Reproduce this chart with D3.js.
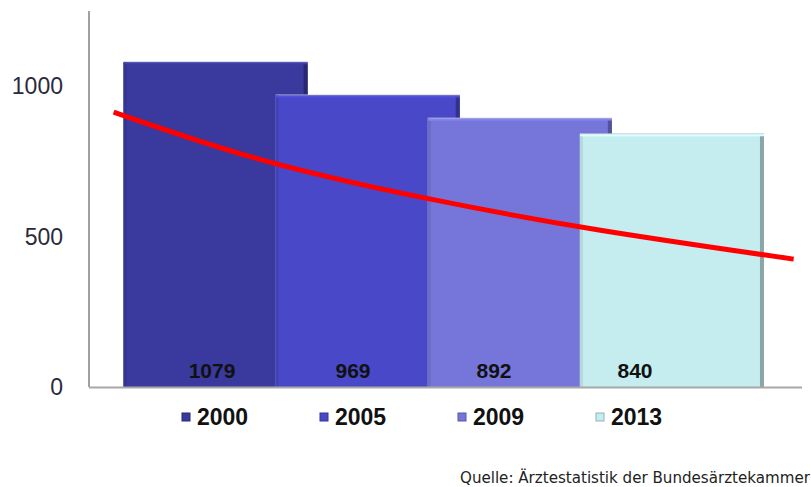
<!DOCTYPE html>
<html lang="de">
<head>
  <meta charset="UTF-8">
  <title>Ärztestatistik</title>
  <style>
    body { margin: 0; background: #fff; }
    svg { display: block; font-family: "Liberation Sans", Arial, sans-serif; }
  </style>
</head>
<body>
  <svg id="chart" width="811" height="487"></svg>

  <script src="https://d3js.org/d3.v7.min.js"></script>
  <script>
    // Werte aus der Grafik
    const jahre = ['2000', '2005', '2009', '2013'];
    const werte = [1079, 969, 892, 840];
    const farben = ['#39399e', '#4848c8', '#7676da', '#c5edf0'];
    const yTicks = [0, 500, 1000];

    // Trendlinie (Position in Balken-Index)
    const trendPos = [-0.67, 0.29, 1.39, 2.52, 3.80];
    const trendWert = [914, 757, 627, 522, 425];

    const quelle = 'Quelle: Ärztestatistik der Bundesärztekammer';

    const svg = d3.select('#chart');

    const y = d3.scaleLinear().domain([0, 1250]).range([387, 11]);

    // Balken überlappen sich: Schrittweite kleiner als Balkenbreite
    const x = d3.scaleBand().domain(jahre).range([139.5, 748]).paddingInner(0).paddingOuter(0);
    const balkenBreite = x.bandwidth() * 1.21;
    const mitte = d => x(d) + x.bandwidth() / 2;

    const xIndex = d3.scaleLinear().domain([0, 3]).range([mitte(jahre[0]), mitte(jahre[3])]);

    // Positionen der Zahlen und Legende
    const xLabel = d3.scalePoint().domain(jahre).range([212, 635]);
    const xLegende = d3.scalePoint().domain(jahre).range([182, 596]);

    // Achsen
    svg.append('line')
      .attr('x1', 89).attr('x2', 89)
      .attr('y1', y(1250)).attr('y2', y(0))
      .attr('stroke', '#a0a0a0').attr('stroke-width', 2);

    svg.selectAll('.tick')
      .data(yTicks)
      .enter().append('text')
      .attr('class', 'tick')
      .attr('x', 63)
      .attr('y', d => y(d))
      .attr('dy', '0.36em')
      .attr('text-anchor', 'end')
      .style('font-size', '23px')
      .style('fill', '#2a2a3a')
      .text(d => d);

    // Balken mit Kanten-Effekt
    const balken = svg.selectAll('.balken')
      .data(jahre)
      .enter().append('g')
      .attr('class', 'balken');

    balken.each(function (d, i) {
      const g = d3.select(this);
      const x0 = mitte(d) - balkenBreite / 2;
      const y0 = y(werte[i]);
      const h = y(0) - y0;
      const c = d3.color(farben[i]);

      g.append('rect')
        .attr('x', x0).attr('y', y0 - 1)
        .attr('width', balkenBreite).attr('height', h + 1)
        .attr('fill', '#c8c8d0');
      g.append('rect')
        .attr('x', x0).attr('y', y0)
        .attr('width', balkenBreite).attr('height', h)
        .attr('fill', c.formatHex());
      // linke Kante leicht schattiert
      g.append('rect')
        .attr('x', x0).attr('y', y0)
        .attr('width', 3).attr('height', h)
        .attr('fill', c.darker(0.25).formatHex());
      // obere Kante hell
      g.append('rect')
        .attr('x', x0).attr('y', y0)
        .attr('width', balkenBreite).attr('height', 2)
        .attr('fill', c.brighter(0.3).formatHex());
      // rechte Kante dunkel
      g.append('rect')
        .attr('x', x0 + balkenBreite - 4).attr('y', y0 + 2)
        .attr('width', 4).attr('height', h - 2)
        .attr('fill', c.darker(1.0).formatHex());
    });

    // Grundlinie
    svg.append('line')
      .attr('x1', 89).attr('x2', 802)
      .attr('y1', y(0) + 0.5).attr('y2', y(0) + 0.5)
      .attr('stroke', '#a8a8a8').attr('stroke-width', 2);

    // Trendlinie
    const trend = trendPos.map((p, i) => [p, trendWert[i]]);
    const linie = d3.line()
      .x(d => xIndex(d[0]))
      .y(d => y(d[1]))
      .curve(d3.curveNatural);

    svg.append('path')
      .attr('d', linie(trend))
      .attr('fill', 'none')
      .attr('stroke', '#ff0000')
      .attr('stroke-width', 5);

    // Zahlen in den Balken
    svg.selectAll('.wert')
      .data(jahre)
      .enter().append('text')
      .attr('class', 'wert')
      .attr('x', d => xLabel(d))
      .attr('y', 370)
      .attr('dy', '0.36em')
      .attr('text-anchor', 'middle')
      .style('font-size', '21px')
      .style('font-weight', 'bold')
      .style('fill', '#111')
      .text((d, i) => werte[i]);

    // Legende
    const legende = svg.selectAll('.legende')
      .data(jahre)
      .enter().append('g')
      .attr('class', 'legende')
      .attr('transform', d => `translate(${xLegende(d)},0)`);

    legende.append('rect')
      .attr('x', 0).attr('y', 413)
      .attr('width', 8).attr('height', 8)
      .attr('fill', (d, i) => farben[i])
      .attr('stroke', (d, i) => d3.color(farben[i]).darker(0.8).formatHex())
      .attr('stroke-width', 1);

    legende.append('text')
      .attr('x', 15)
      .attr('y', 417)
      .attr('dy', '0.36em')
      .style('font-size', '23px')
      .style('font-weight', 'bold')
      .style('fill', '#111')
      .text(d => d);

    // Quelle
    svg.append('text')
      .attr('x', 460)
      .attr('y', 478)
      .attr('dy', '0.36em')
      .style('font-family', '"DejaVu Sans", sans-serif')
      .style('font-size', '15.1px')
      .style('fill', '#222')
      .text(quelle);
  </script>
</body>
</html>
